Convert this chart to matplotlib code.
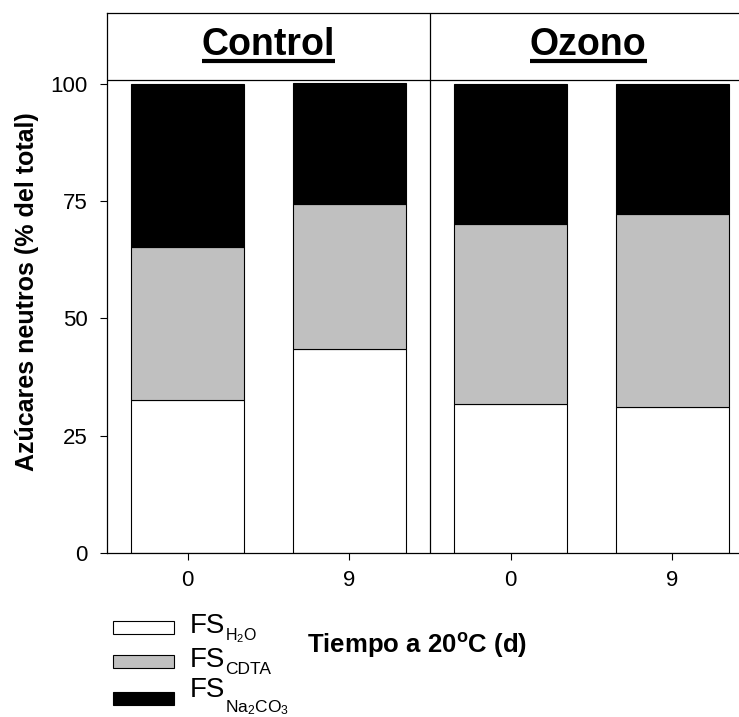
import matplotlib
matplotlib.use("Agg")
import matplotlib.pyplot as plt
from matplotlib.patches import Rectangle
from matplotlib.lines import Line2D
import numpy as np

plt.rcParams['font.family'] = ['Liberation Sans', 'DejaVu Sans']
plt.rcParams['mathtext.fontset'] = 'custom'
plt.rcParams['mathtext.rm'] = 'Liberation Sans'
plt.rcParams['mathtext.it'] = 'Liberation Sans:italic'
plt.rcParams['mathtext.bf'] = 'Liberation Sans:bold'

# ---- data ----
groups = ['Control', 'Ozono']
tick_labels = ['0', '9', '0', '9']
fs_h2o = [32.6, 43.5, 31.8, 31.2]
fs_cdta = [32.6, 30.9, 38.3, 40.9]
fs_na2co3 = [34.8, 25.6, 29.9, 27.9]
yticks = [0, 25, 50, 75, 100]

W, H = 739, 717
fig = plt.figure(figsize=(W / 100, H / 100), dpi=100)

def fx(x):
    return x / W

def fy(y):
    return 1 - y / H

# axes from x=107 to 753 px (right edge clipped), y from 13 to 553 px
ax = fig.add_axes([fx(107), fy(553), (753 - 107) / W, (553 - 13) / H])
ymax = 100 * (553 - 13) / (553 - 83.5)
ax.set_xlim(-0.5, 3.5)
ax.set_ylim(0, ymax)

x = np.arange(len(tick_labels))
bw = 0.70
b1 = np.array(fs_h2o)
b2 = b1 + np.array(fs_cdta)
ax.bar(x, fs_h2o, width=bw, color='white', edgecolor='black', linewidth=0.8)
ax.bar(x, fs_cdta, width=bw, bottom=b1, color='#c0c0c0', edgecolor='black', linewidth=0.8)
ax.bar(x, fs_na2co3, width=bw, bottom=b2, color='black', edgecolor='black', linewidth=0.8)

# header separator and panel divider
hdr_y = 100 * (553 - 80) / (553 - 83.5)
ax.axhline(hdr_y, color='black', linewidth=0.9)
ax.axvline(1.5, color='black', linewidth=0.9)

for sp in ax.spines.values():
    sp.set_linewidth(0.9)
ax.spines['right'].set_visible(False)

ax.set_yticks(yticks)
ax.set_yticklabels([str(v) for v in yticks])
ax.set_xticks(x)
ax.set_xticklabels(tick_labels)
ax.tick_params(axis='both', direction='out', length=5, width=0.8, labelsize=16)
ax.tick_params(axis='y', pad=9)
ax.tick_params(axis='x', pad=7)

# panel titles with underline
title_y = 100 * (553 - 55) / (553 - 83.5)
title_x = [0.5, 2.48]
titles = []
for gx, g in zip(title_x, groups):
    t = ax.text(gx, title_y, g, ha='center', va='baseline', fontsize=27, fontweight='bold')
    titles.append(t)

fig.canvas.draw()
renderer = fig.canvas.get_renderer()
for t in titles:
    bb = t.get_window_extent(renderer)
    yline = fy(61)
    fig.add_artist(Line2D([bb.x0 / fig.bbox.width, bb.x1 / fig.bbox.width], [yline, yline],
                          color='black', linewidth=3.0, solid_capstyle='butt'))

# axis labels
fig.text(fx(27), fy(292), 'Azúcares neutros (% del total)', rotation=90,
         ha='center', va='center', fontsize=18, fontweight='bold')
fig.text(fx(417), fy(653), r'Tiempo a 20$^{\mathbf{o}}$C (d)', ha='center', va='baseline',
         fontsize=18.5, fontweight='bold')

# legend (manual)
leg_colors = ['white', '#c0c0c0', 'black']
box_tops = [621, 655, 692]
box_h = 13
for c, top in zip(leg_colors, box_tops):
    fig.add_artist(Rectangle((fx(113), fy(top + box_h)), 61 / W, box_h / H,
                             facecolor=c, edgecolor='black', linewidth=0.8,
                             transform=fig.transFigure))

fs_base = [633, 667, 697]
sub_text = [r'H$_\mathregular{2}$O', 'CDTA', r'Na$_\mathregular{2}$CO$_\mathregular{3}$']
sub_base = [640, 674, 712]
sub_size = [11.5, 12.5, 12.5]
for fb, st, sb, ss in zip(fs_base, sub_text, sub_base, sub_size):
    fig.text(fx(190), fy(fb), 'FS', ha='left', va='baseline', fontsize=20)
    fig.text(fx(225), fy(sb), st, ha='left', va='baseline', fontsize=ss)

fig.savefig('out.png', dpi=100)
